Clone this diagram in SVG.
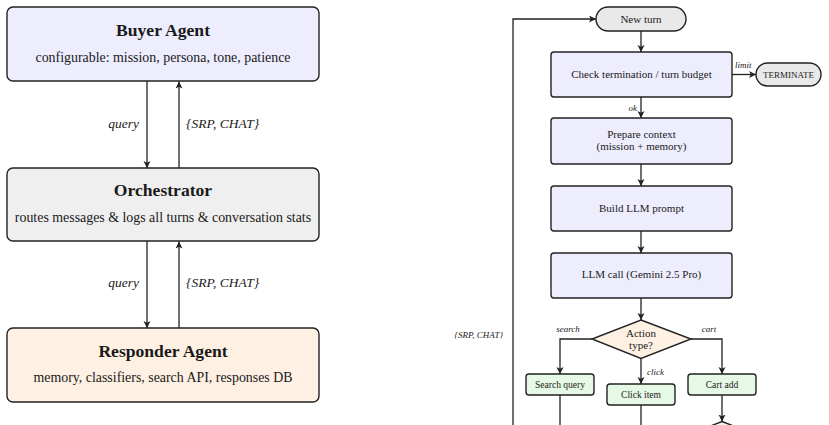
<svg xmlns="http://www.w3.org/2000/svg" width="829" height="425" viewBox="0 0 829 425">
<style>
text{font-family:"Liberation Serif","Times New Roman",serif;fill:#1a1a1a}
.box{stroke:#222;stroke-width:1.4}
.title{font-size:17.6px;font-weight:bold;text-anchor:middle}
.sub{font-size:13.9px;text-anchor:middle}
.lab{font-size:13.5px;font-style:italic}
.f{font-size:11px;text-anchor:middle}
.g{font-size:9.5px;text-anchor:middle}
.s{font-size:9px;font-style:italic}
.c{fill:none;stroke:#222;stroke-width:1.3}
.blue{fill:#ededfd}
.gray{fill:#efefef}
.peach{fill:#fef0e3}
.green{fill:#e6f8e6}
.term{fill:#e9e9e9}
</style>
<defs>
<marker id="ah" markerUnits="userSpaceOnUse" markerWidth="8" markerHeight="8" refX="7" refY="3.5" orient="auto">
<path d="M0,0 L7,3.5 L0,7 L1.8,3.5 z" fill="#222"/>
</marker>
</defs>
<g id="buyer">
<rect class="box blue" x="7" y="7" width="312" height="74" rx="6"/>
<text class="title" x="163" y="36">Buyer Agent</text>
<text class="sub" x="163" y="62">configurable: mission, persona, tone, patience</text>
</g>
<g id="orchestrator">
<rect class="box gray" x="7" y="168" width="312" height="73" rx="6"/>
<text class="title" x="163" y="196">Orchestrator</text>
<text class="sub" x="163" y="222">routes messages &amp; logs all turns &amp; conversation stats</text>
</g>
<g id="responder">
<rect class="box peach" x="7" y="328" width="312" height="74" rx="6"/>
<text class="title" x="163" y="357">Responder Agent</text>
<text class="sub" x="163" y="382">memory, classifiers, search API, responses DB</text>
</g>
<g id="new-turn">
<rect class="box term" x="596" y="7" width="90" height="24" rx="12"/>
<text class="f" x="641" y="23">New turn</text>
</g>
<g id="check">
<rect class="box blue" x="551" y="52" width="181" height="45" rx="3"/>
<text class="f" x="641.5" y="78">Check termination / turn budget</text>
</g>
<g id="terminate">
<rect class="box term" x="756" y="63" width="65" height="23" rx="11.5"/>
<text x="788.5" y="78" style="font-size:9px;text-anchor:middle">TERMINATE</text>
</g>
<g id="prepare">
<rect class="box blue" x="551" y="118" width="181" height="46" rx="3"/>
<text class="f" x="641.5" y="138">Prepare context</text>
<text class="f" x="641.5" y="150">(mission + memory)</text>
</g>
<g id="build">
<rect class="box blue" x="551" y="186" width="181" height="45" rx="3"/>
<text class="f" x="641.5" y="212">Build LLM prompt</text>
</g>
<g id="llm">
<rect class="box blue" x="551" y="253" width="181" height="45" rx="3"/>
<text class="f" x="641.5" y="278">LLM call (Gemini 2.5 Pro)</text>
</g>
<g id="action">
<polygon class="box peach" points="641,320 691,339 641,358.5 592,339"/>
<text class="f" x="641" y="337">Action</text>
<text class="f" x="641" y="349">type?</text>
</g>
<g id="search">
<rect class="box green" x="526" y="374" width="68" height="21" rx="3"/>
<text class="g" x="560" y="388">Search query</text>
</g>
<g id="click">
<rect class="box green" x="607" y="384" width="68" height="21" rx="3"/>
<text class="g" x="641" y="398">Click item</text>
</g>
<g id="cart">
<rect class="box green" x="688" y="374" width="68" height="21" rx="3"/>
<text class="g" x="722" y="388">Cart add</text>
</g>
<g id="next-decision">
<polygon class="box peach" points="722,421.5 772,441 722,460 672,441"/>
</g>
<g id="connectors">
<line class="c" x1="147" y1="81" x2="147" y2="168" marker-end="url(#ah)"/>
<line class="c" x1="179" y1="168" x2="179" y2="81.5" marker-end="url(#ah)"/>
<line class="c" x1="147" y1="241" x2="147" y2="328" marker-end="url(#ah)"/>
<line class="c" x1="179" y1="328" x2="179" y2="241.5" marker-end="url(#ah)"/>
<text class="lab" x="139" y="128" text-anchor="end">query</text>
<text class="lab" x="186" y="128">{SRP, CHAT}</text>
<text class="lab" x="139" y="287" text-anchor="end">query</text>
<text class="lab" x="186" y="287">{SRP, CHAT}</text>
<line class="c" x1="641" y1="31" x2="641" y2="52" marker-end="url(#ah)"/>
<line class="c" x1="732" y1="74.5" x2="756" y2="74.5" marker-end="url(#ah)"/>
<text class="s" x="735" y="68">limit</text>
<line class="c" x1="641" y1="97" x2="641" y2="118" marker-end="url(#ah)"/>
<text class="s" x="637" y="111" text-anchor="end">ok</text>
<line class="c" x1="641" y1="164" x2="641" y2="186" marker-end="url(#ah)"/>
<line class="c" x1="641" y1="231" x2="641" y2="253" marker-end="url(#ah)"/>
<line class="c" x1="641" y1="298" x2="641" y2="320" marker-end="url(#ah)"/>
<path class="c" d="M592,339 H560 V374" marker-end="url(#ah)"/>
<text class="s" x="568" y="332" text-anchor="middle">search</text>
<path class="c" d="M691,339 H722 V374" marker-end="url(#ah)"/>
<text class="s" x="709" y="332" text-anchor="middle">cart</text>
<line class="c" x1="641" y1="358.5" x2="641" y2="384" marker-end="url(#ah)"/>
<text class="s" x="647" y="375">click</text>
<line class="c" x1="560" y1="395" x2="560" y2="426"/>
<line class="c" x1="641" y1="405" x2="641" y2="426"/>
<line class="c" x1="722" y1="395" x2="722" y2="421.5" marker-end="url(#ah)"/>
<path class="c" d="M513,426 V19 H596" marker-end="url(#ah)"/>
<text class="s" x="503" y="338" text-anchor="end">{SRP, CHAT}</text>
</g>
</svg>
